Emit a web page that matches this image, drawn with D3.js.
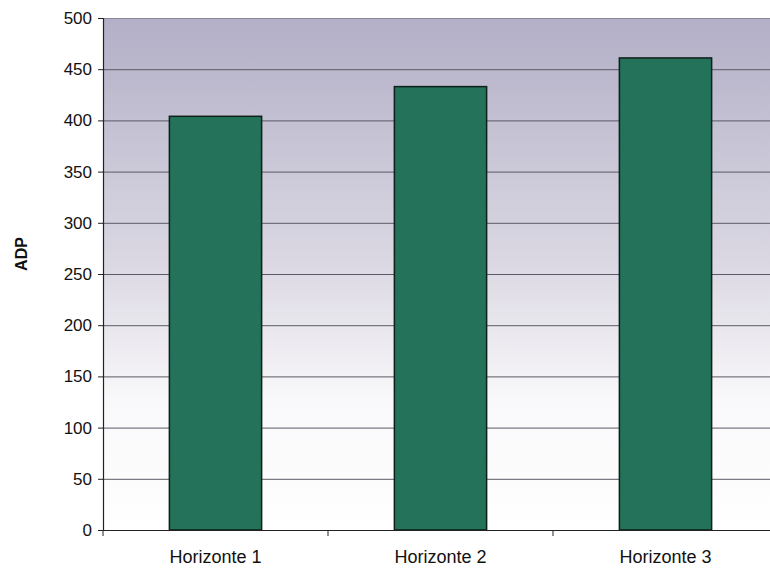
<!DOCTYPE html>
<html>
<head>
<meta charset="utf-8">
<script src="https://cdn.jsdelivr.net/npm/d3@7"></script>
<style>
  html, body { margin: 0; padding: 0; background: #fff; }
  svg { display: block; font-family: Arial, "Liberation Sans", sans-serif; }
</style>
</head>
<body>
<svg id="chart" width="770" height="570"></svg>
<script>
// ADP per horizon
const categories = ["Horizonte 1", "Horizonte 2", "Horizonte 3"];
const values = [404, 433, 461];
const yTicks = [0, 50, 100, 150, 200, 250, 300, 350, 400, 450, 500];
const yLabel = "ADP";

const svg = d3.select("#chart");
const margin = { left: 103, top: 18 };
const width = 778 - margin.left;
const height = 530 - margin.top;

const defs = svg.append("defs");
const grad = defs.append("linearGradient")
  .attr("id", "bg").attr("x1", 0).attr("y1", 0).attr("x2", 0).attr("y2", 1);
grad.append("stop").attr("offset", "0%").attr("stop-color", "#b2afc7");
grad.append("stop").attr("offset", "48%").attr("stop-color", "#dbd8e3");
grad.append("stop").attr("offset", "75%").attr("stop-color", "#f9f8fa");
grad.append("stop").attr("offset", "100%").attr("stop-color", "#ffffff");

const g = svg.append("g").attr("transform", `translate(${margin.left},${margin.top})`);

const x = d3.scaleBand().domain(categories).range([0, width]).paddingInner(0.59).paddingOuter(0.295);
const y = d3.scaleLinear().domain([0, 500]).range([height, 0]);

// plot background
g.append("rect").attr("x", 0).attr("y", 0).attr("width", width).attr("height", height)
  .attr("fill", "url(#bg)");

// horizontal gridlines
g.append("g").selectAll("line").data(yTicks.filter(d => d > 0)).join("line")
  .attr("x1", 0).attr("x2", width)
  .attr("y1", d => y(d) + 0.5).attr("y2", d => y(d) + 0.5)
  .attr("stroke", d => d === 500 ? "#8a8898" : "#5a5a66")
  .attr("stroke-width", 1);

// bars
g.append("g").selectAll("rect").data(values).join("rect")
  .attr("x", (d, i) => x(categories[i]))
  .attr("y", d => y(d))
  .attr("width", x.bandwidth())
  .attr("height", d => height - y(d))
  .attr("fill", "#237259")
  .attr("stroke", "#0f1f1a")
  .attr("stroke-width", 1.5);

// y axis
const yAxis = g.append("g")
  .call(d3.axisLeft(y).tickValues(yTicks).tickSize(5).tickPadding(6).tickFormat(d3.format("d")));
yAxis.select(".domain").attr("stroke", "#222").attr("stroke-width", 1.2);
yAxis.selectAll(".tick line").attr("stroke", "#222");
yAxis.selectAll(".tick text").attr("font-size", 17).attr("fill", "#111")
  .attr("font-family", "Arial, 'Liberation Sans', sans-serif");

// x axis with boundary ticks between categories
const xAxisG = g.append("g").attr("transform", `translate(0,${height})`);
xAxisG.append("line").attr("x1", 0).attr("x2", width).attr("y1", 0.5).attr("y2", 0.5)
  .attr("stroke", "#222").attr("stroke-width", 1.2);
const step = x.step();
xAxisG.selectAll("line.b").data(d3.range(categories.length + 1)).join("line")
  .attr("class", "b")
  .attr("x1", i => i * step).attr("x2", i => i * step)
  .attr("y1", 0).attr("y2", 6)
  .attr("stroke", "#222");
xAxisG.selectAll("text").data(categories).join("text")
  .attr("x", d => x(d) + x.bandwidth() / 2)
  .attr("y", 33)
  .attr("text-anchor", "middle")
  .attr("font-size", 18)
  .attr("fill", "#111")
  .text(d => d);

// y axis title
svg.append("text")
  .attr("transform", `translate(27,254) rotate(-90)`)
  .attr("text-anchor", "middle")
  .attr("font-size", 16)
  .attr("font-weight", "bold")
  .attr("fill", "#111")
  .text(yLabel);
</script>
</body>
</html>
